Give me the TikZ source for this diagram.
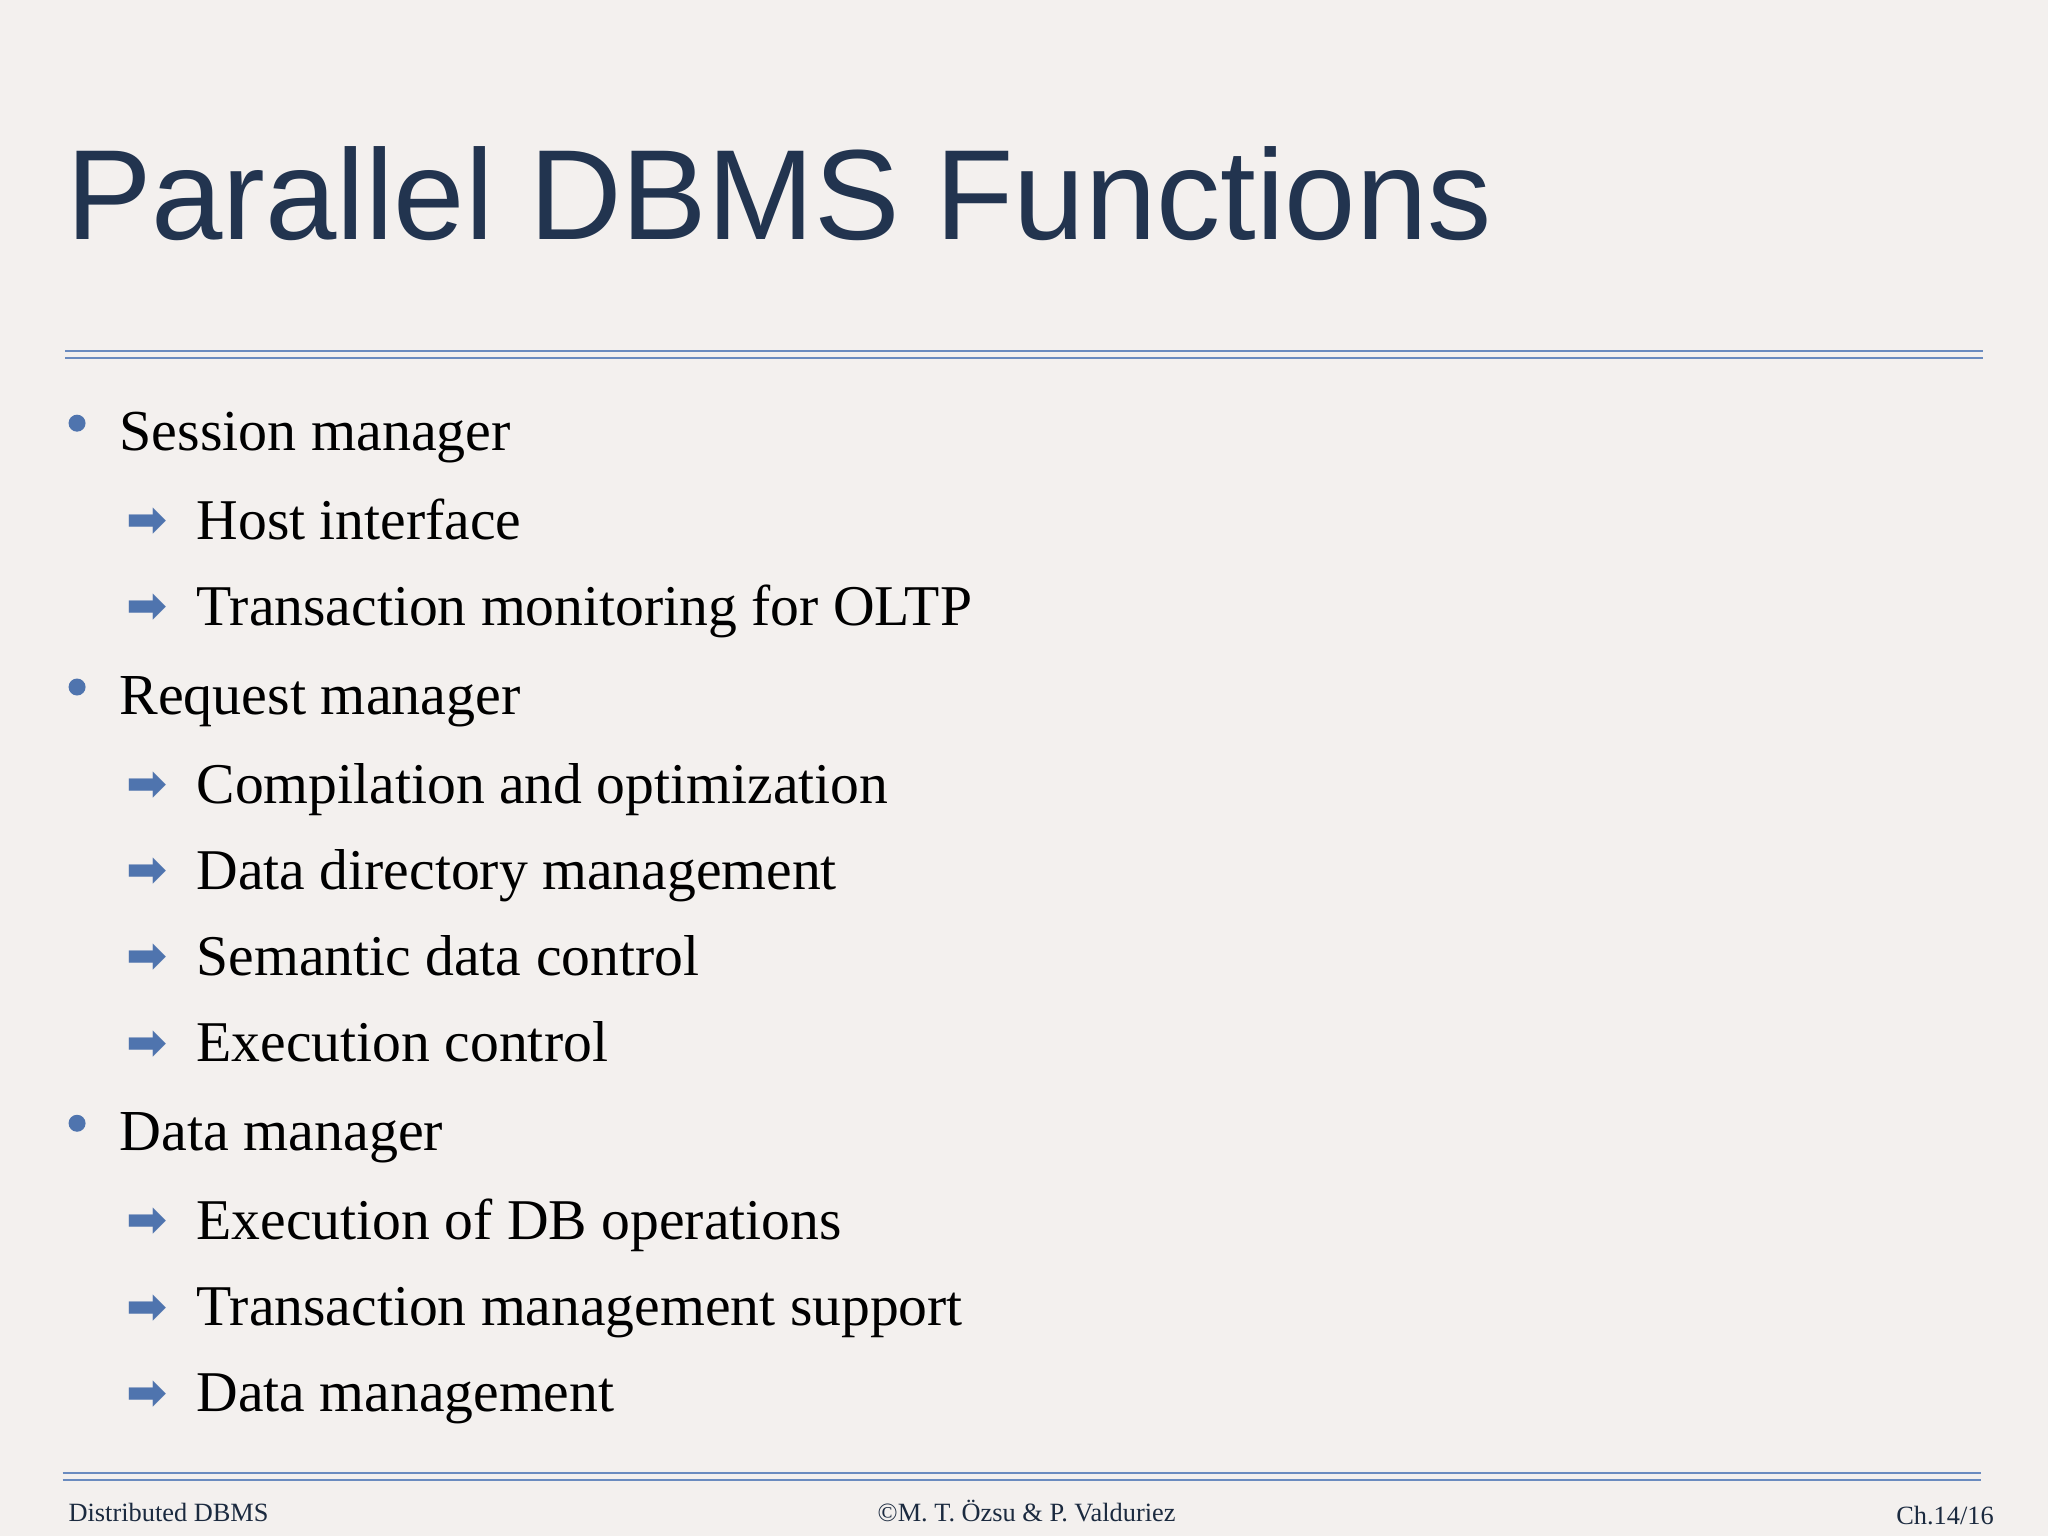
\documentclass[tikz,border=0pt]{standalone}
\usepackage{fontspec}
\setmainfont{Liberation Serif}
\newfontfamily\titlefont{Liberation Sans}
\newfontfamily\symfont{DejaVu Sans}
\definecolor{bg}{HTML}{F3F0EE}
\definecolor{navy}{HTML}{22344F}
\definecolor{rule}{HTML}{6A8BBF}
\definecolor{blt}{HTML}{4F74AE}
\begin{document}
\begin{tikzpicture}[x=0.01306cm,y=-0.01306cm,
  lone/.style={anchor=base west,inner sep=0,font=\fontsize{16.5}{20}\selectfont},
  ltwo/.style={anchor=base west,inner sep=0,font=\fontsize{16.4}{20}\selectfont},
  dot/.style={circle,fill=blt,inner sep=0,minimum size=0.17cm},
  arr/.style={inner sep=0,text=blt,font=\symfont\bfseries\fontsize{14}{14}\selectfont},
  foot/.style={inner sep=0,anchor=base,font=\fontsize{7.5}{9}\selectfont,text=navy!80!black}]
\fill[bg] (0,0) rectangle (1568,1176);
\useasboundingbox (0,0) rectangle (1568,1176);
\node[anchor=base west,inner sep=0,text=navy,font=\titlefont\fontsize{36.5}{40}\selectfont] (title) at (50,183) {Parallel DBMS Functions};
\draw[rule,line width=0.6pt] (50,269) -- (1518,269) (50,274) -- (1518,274);
\draw[rule,line width=0.6pt] (48,1128) -- (1517,1128) (48,1133) -- (1517,1133);
\foreach \t/\y in {Session manager/345, Request manager/547, Data manager/881}{
  \node[dot] at (59,\y-21) {};
  \node[lone] at (91,\y) {\t};
}
\foreach \t/\y in {Host interface/413, Transaction monitoring for OLTP/479, Compilation and optimization/615, Data directory management/681, Semantic data control/747, Execution control/813, Execution of DB operations/949, Transaction management support/1015, Data management/1081}{
  \node[arr] at (113,\y-13) {➡};
  \node[ltwo] at (150,\y) {\t};
}
\node[foot,anchor=base west] (f1) at (52,1165) {Distributed DBMS};
\node[foot] (f2) at (786,1165) {©M. T. Özsu \& P. Valduriez};
\node[foot,anchor=base east] (f3) at (1527,1167) {Ch.14/16};
\end{tikzpicture}
\end{document}
